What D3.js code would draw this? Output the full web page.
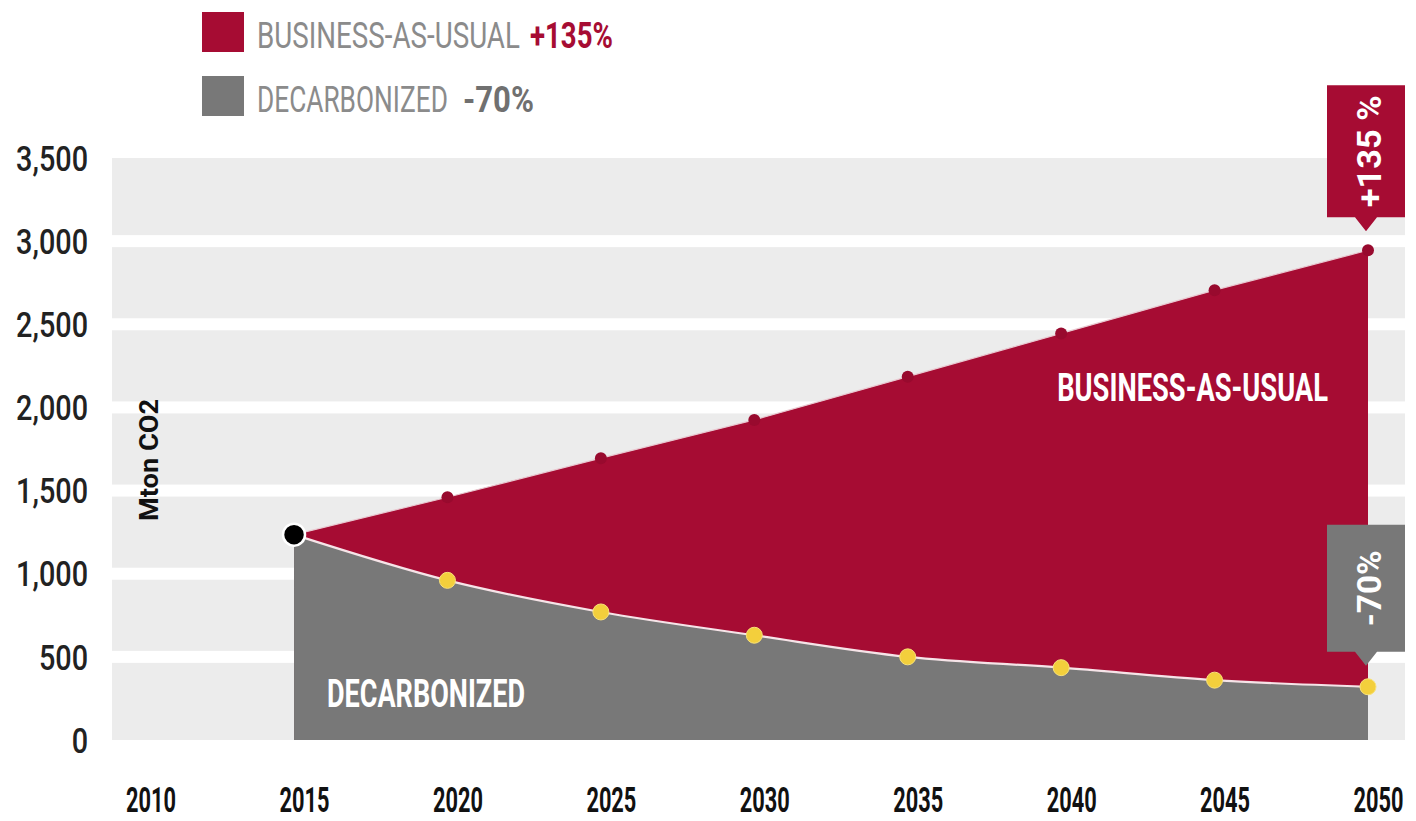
<!DOCTYPE html>
<html>
<head>
<meta charset="utf-8">
<script src="https://cdn.jsdelivr.net/npm/d3@7"></script>
<style>
  body { margin: 0; background: #fff; }
  svg { display: block; font-family: Roboto, "Liberation Sans", sans-serif; }
</style>
</head>
<body>
<div class="main"></div>
<script>
// emissions (Mton CO2)
const years = [2015, 2020, 2025, 2030, 2035, 2040, 2045, 2050];
const businessAsUsual = [1235, 1460, 1695, 1925, 2185, 2445, 2705, 2945];
const decarbonized = [1235, 960, 770, 630, 500, 435, 360, 320];

const yTicks = [0, 500, 1000, 1500, 2000, 2500, 3000, 3500];
const xTicks = [2010, 2015, 2020, 2025, 2030, 2035, 2040, 2045, 2050];

const legendLabels = ["BUSINESS-AS-USUAL", "DECARBONIZED"];
const legendChanges = ["+135%", "-70%"];
const calloutLabels = ["+135 %", "-70%"];
const yTitle = "Mton CO2";

const crimson = "#a60c33";
const grey = "#787878";

let width = 1416;
let height = 821;

let svg = d3.select(".main").append("svg")
    .attr("width", width)
    .attr("height", height);

let x = d3.scaleLinear().domain([2010, 2050]).range([140.6, 1368]);
let y = d3.scaleLinear().domain([0, 3500]).range([740, 158]);

const plotLeft = 112, plotRight = 1405;

// squeeze a text horizontally so it is `w` wide (the font is a condensed one in the original)
function fit(sel, w, pre = "", post = "") {
    sel.each(function () {
        let natural = this.getComputedTextLength();
        d3.select(this).attr("transform", `${pre} scale(${w / natural},1) ${post}`);
    });
}

// grey bands with white gaps on the gridlines
let bands = yTicks.slice(0, -1);
svg.append("g").selectAll("rect")
    .data(bands)
    .enter().append("rect")
    .attr("x", plotLeft)
    .attr("width", plotRight - plotLeft)
    .attr("y", d => y(d + 500) + (d + 500 < 3500 ? 6 : 0))
    .attr("height", d => (y(d) - (d > 0 ? 6 : 0)) - (y(d + 500) + (d + 500 < 3500 ? 6 : 0)))
    .attr("fill", "#ececec");

let rows = years.map((yr, i) => ({ year: yr, bau: businessAsUsual[i], dc: decarbonized[i] }));

// business-as-usual area (straight segments)
let bauArea = d3.area()
    .x(d => x(d.year))
    .y0(y(0))
    .y1(d => y(d.bau));
svg.append("path")
    .datum(rows)
    .attr("d", bauArea)
    .attr("fill", crimson);

svg.append("path")
    .datum(rows)
    .attr("d", d3.line().x(d => x(d.year)).y(d => y(d.bau)))
    .attr("fill", "none")
    .attr("stroke", "#e9c9d1")
    .attr("stroke-width", 1.2);

// decarbonized area (smooth)
let dcArea = d3.area()
    .curve(d3.curveMonotoneX)
    .x(d => x(d.year))
    .y0(y(0))
    .y1(d => y(d.dc));
svg.append("path")
    .datum(rows)
    .attr("d", dcArea)
    .attr("fill", grey);

svg.append("path")
    .datum(rows)
    .attr("d", d3.line().curve(d3.curveMonotoneX).x(d => x(d.year)).y(d => y(d.dc)))
    .attr("fill", "none")
    .attr("stroke", "#f6e4e8")
    .attr("stroke-width", 2.2);

// markers
svg.append("g").selectAll("circle")
    .data(rows.slice(1))
    .enter().append("circle")
    .attr("cx", d => x(d.year))
    .attr("cy", d => y(d.bau))
    .attr("r", 6)
    .attr("fill", "#980a2e");

svg.append("g").selectAll("circle")
    .data(rows.slice(1))
    .enter().append("circle")
    .attr("cx", d => x(d.year))
    .attr("cy", d => y(d.dc))
    .attr("r", 8)
    .attr("fill", "#f3cf3c")
    .attr("stroke", "#f8e27a")
    .attr("stroke-width", 1);

svg.append("circle")
    .attr("cx", x(rows[0].year))
    .attr("cy", y(rows[0].bau))
    .attr("r", 11)
    .attr("fill", "#000")
    .attr("stroke", "#fff")
    .attr("stroke-width", 2.5);

// y axis
let yAxis = svg.append("g")
    .attr("transform", `translate(${plotLeft},0)`)
    .call(d3.axisLeft(y).tickValues(yTicks).tickSize(0).tickFormat(d3.format(",")));
yAxis.select(".domain").remove();
yAxis.selectAll("text")
    .attr("x", 0)
    .attr("transform", "translate(-24,0) scale(0.8,1)")
    .attr("dy", "0.34em")
    .attr("fill", "#222")
    .style("font-size", "36px")
    .style("font-family", "Roboto, sans-serif")
    .style("font-weight", "500");

// x axis
let xAxis = svg.append("g")
    .attr("transform", "translate(0,760)")
    .call(d3.axisBottom(x).tickValues(xTicks).tickSize(0).tickFormat(d3.format("d")));
xAxis.select(".domain").remove();
let yearText = xAxis.selectAll("text")
    .attr("x", 0)
    .attr("y", 52)
    .attr("dy", 0)
    .attr("fill", "#111")
    .style("font-size", "36px")
    .style("font-family", "Roboto, sans-serif")
    .style("font-weight", "700");
fit(yearText, 50, "translate(10,0)");

// y title
svg.append("text")
    .attr("text-anchor", "middle")
    .attr("fill", "#111")
    .style("font-size", "25px")
    .style("font-weight", "700")
    .text(yTitle)
    .call(fit, 122, "translate(158,460) rotate(-90)");

// legend
let legendColors = [crimson, grey];
let changeColors = [crimson, "#707070"];
let labelLen = [263, 191];
let changeLen = [83, 71];
let changeX = [530, 463];
legendLabels.forEach((lab, i) => {
    let top = 12 + i * 64;
    svg.append("rect")
        .attr("x", 202).attr("y", top)
        .attr("width", 42).attr("height", 40)
        .attr("fill", legendColors[i]);
    svg.append("text")
        .attr("fill", "#8b8b8b")
        .style("font-size", "37px")
        .text(lab)
        .call(fit, labelLen[i], `translate(257,${top + 36})`);
    svg.append("text")
        .attr("fill", changeColors[i])
        .style("font-size", "37px")
        .style("font-weight", "700")
        .text(legendChanges[i])
        .call(fit, changeLen[i], `translate(${changeX[i]},${top + 36})`);
});

// labels inside the areas
svg.append("text")
    .attr("text-anchor", "end")
    .attr("fill", "#fff")
    .style("font-size", "38px")
    .style("font-weight", "700")
    .text(legendLabels[0])
    .call(fit, 271, "translate(1328,401)");

svg.append("text")
    .attr("fill", "#fff")
    .style("font-size", "38px")
    .style("font-weight", "700")
    .text(legendLabels[1])
    .call(fit, 198, "translate(327,707)");

// callouts at 2050
let last = rows[rows.length - 1];
let callouts = [
    { value: last.bau, color: crimson, gap: 33, h: 132, len: 112, label: calloutLabels[0] },
    { value: last.dc, color: grey, gap: 35, h: 127, len: 76, label: calloutLabels[1] }
];
callouts.forEach(c => {
    let cx = x(last.year) - 2;
    let bottom = y(c.value) - c.gap;
    let top = bottom - c.h;
    svg.append("path")
        .attr("d", `M${cx - 39},${top}H${cx + 39}V${bottom}H${cx + 11}L${cx},${bottom + 14}L${cx - 11},${bottom}H${cx - 39}Z`)
        .attr("fill", c.color);
    svg.append("text")
        .attr("text-anchor", "middle")
        .attr("dy", "0.36em")
        .attr("fill", "#fff")
        .style("font-size", "34px")
        .style("font-weight", "700")
        .text(c.label)
        .call(fit, c.len, `translate(${cx + 3},${(top + bottom) / 2}) rotate(-90)`);
});
</script>
</body>
</html>
